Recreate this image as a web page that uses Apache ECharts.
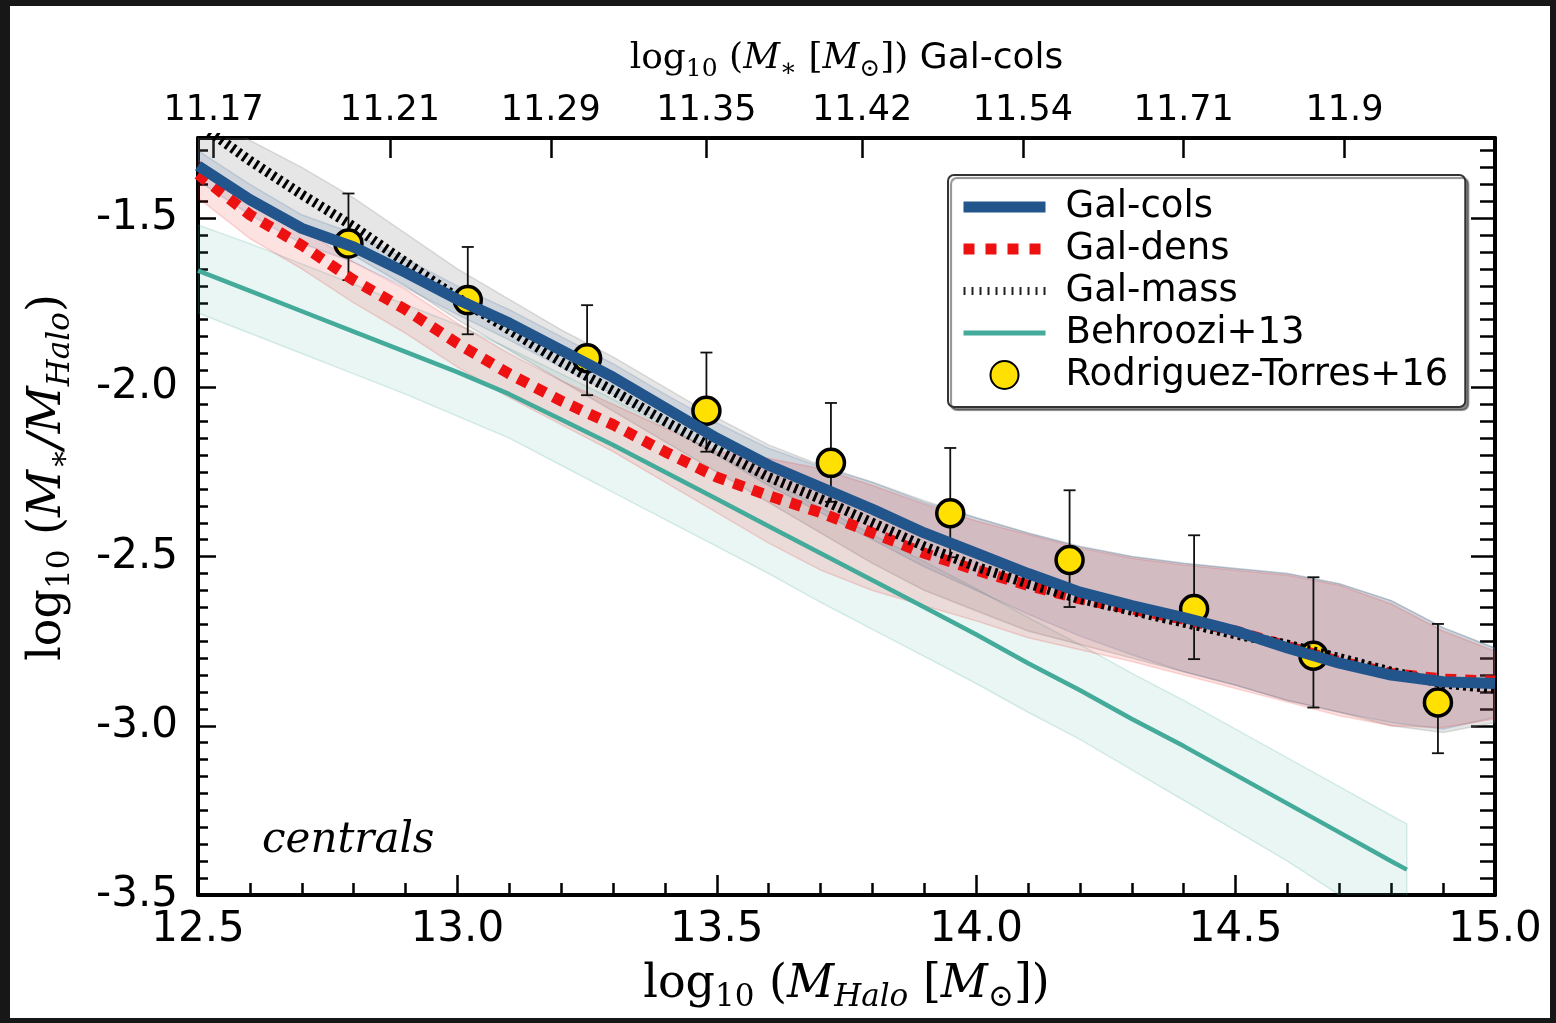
<!DOCTYPE html>
<html>
<head>
<meta charset="utf-8">
<title>Stellar-to-halo mass ratio, centrals</title>
<script src="https://cdn.jsdelivr.net/npm/echarts@6/dist/echarts.min.js"></script>
<style>
  html, body { margin: 0; padding: 0; background: #fff; }
  #chart { position: absolute; left: 0; top: 0; width: 1556px; height: 1023px; }
  #frame {
    position: absolute; left: 0; top: 0; width: 1556px; height: 1023px;
    box-sizing: border-box; border-style: solid; border-color: #171717;
    border-width: 6px 6px 5px 10px; pointer-events: none;
  }
</style>
</head>
<body>
<div id="chart"></div>
<div id="frame"></div>
<script>
// halo mass grid (log10 M_halo)
var xGrid = [12.5, 12.6, 12.7, 12.8, 12.9, 13.0, 13.1, 13.2, 13.3, 13.4, 13.5, 13.6, 13.7,
             13.8, 13.9, 14.0, 14.1, 14.2, 14.3, 14.4, 14.5, 14.6, 14.7, 14.8, 14.9, 15.0];

// Gal-cols
var colsMid = [-1.345, -1.445, -1.53, -1.585, -1.66, -1.74, -1.81, -1.89, -1.97, -2.06, -2.15, -2.23, -2.295,
               -2.36, -2.43, -2.49, -2.55, -2.605, -2.645, -2.68, -2.72, -2.77, -2.815, -2.85, -2.87, -2.875];
var colsHi = [-1.30, -1.40, -1.49, -1.545, -1.62, -1.70, -1.77, -1.85, -1.93, -2.02, -2.105, -2.18, -2.235,
              -2.28, -2.34, -2.385, -2.43, -2.47, -2.50, -2.52, -2.535, -2.55, -2.58, -2.63, -2.71, -2.77];
var colsLo = [-1.39, -1.49, -1.575, -1.63, -1.705, -1.785, -1.86, -1.94, -2.02, -2.11, -2.20, -2.29, -2.37,
              -2.45, -2.53, -2.60, -2.67, -2.735, -2.79, -2.84, -2.88, -2.925, -2.96, -2.99, -3.01, -2.975];

// Gal-dens
var densMid = [-1.37, -1.49, -1.58, -1.683, -1.77, -1.87, -1.96, -2.04, -2.11, -2.19, -2.265, -2.32, -2.37,
               -2.43, -2.49, -2.54, -2.585, -2.625, -2.655, -2.685, -2.72, -2.765, -2.81, -2.845, -2.862, -2.868];
var densHi = [-1.33, -1.44, -1.53, -1.63, -1.71, -1.81, -1.90, -1.98, -2.05, -2.12, -2.19, -2.21, -2.24,
              -2.29, -2.345, -2.395, -2.435, -2.475, -2.505, -2.525, -2.54, -2.555, -2.585, -2.64, -2.72, -2.78];
var densLo = [-1.44, -1.56, -1.65, -1.75, -1.84, -1.94, -2.03, -2.11, -2.19, -2.28, -2.37, -2.46, -2.54,
              -2.60, -2.645, -2.69, -2.74, -2.775, -2.81, -2.85, -2.89, -2.93, -2.97, -3.0, -3.005, -2.98];

// Gal-mass
var massMid = [-1.22, -1.33, -1.43, -1.525, -1.63, -1.735, -1.83, -1.925, -2.01, -2.10, -2.185, -2.265, -2.33,
               -2.40, -2.47, -2.53, -2.58, -2.625, -2.66, -2.695, -2.73, -2.76, -2.80, -2.84, -2.875, -2.89];
var massHi = [-1.19, -1.27, -1.35, -1.44, -1.545, -1.65, -1.74, -1.83, -1.91, -2.00, -2.09, -2.17, -2.23,
              -2.28, -2.335, -2.385, -2.43, -2.47, -2.50, -2.52, -2.535, -2.55, -2.58, -2.63, -2.71, -2.77];
var massLo = [-1.33, -1.43, -1.52, -1.61, -1.70, -1.80, -1.89, -1.98, -2.07, -2.16, -2.25, -2.34, -2.43,
              -2.52, -2.60, -2.66, -2.72, -2.76, -2.80, -2.84, -2.88, -2.925, -2.96, -3.0, -3.02, -2.99];

// Behroozi+13
var behX = [12.5, 12.6, 12.7, 12.8, 12.9, 13.0, 13.1, 13.2, 13.3, 13.4, 13.5, 13.6, 13.7,
            13.8, 13.9, 14.0, 14.1, 14.2, 14.3, 14.4, 14.5, 14.6, 14.7, 14.8, 14.83];
var behMid = [-1.655, -1.715, -1.775, -1.835, -1.895, -1.955, -2.02, -2.095, -2.17, -2.25, -2.33, -2.41, -2.49,
              -2.57, -2.65, -2.73, -2.815, -2.895, -2.98, -3.06, -3.145, -3.23, -3.315, -3.40, -3.425];
var behHi = [-1.52, -1.575, -1.635, -1.695, -1.755, -1.815, -1.885, -1.96, -2.035, -2.115, -2.195, -2.275, -2.355,
             -2.435, -2.515, -2.595, -2.68, -2.76, -2.845, -2.925, -3.01, -3.095, -3.18, -3.265, -3.29];
var behLo = [-1.78, -1.84, -1.90, -1.96, -2.02, -2.085, -2.15, -2.23, -2.31, -2.39, -2.47, -2.55, -2.635,
             -2.715, -2.795, -2.875, -2.96, -3.04, -3.13, -3.22, -3.31, -3.40, -3.50, -3.59, -3.62];

// Rodriguez-Torres+16
var rtX = [12.79, 13.02, 13.25, 13.48, 13.72, 13.95, 14.18, 14.42, 14.65, 14.89];
var rtY = [-1.575, -1.742, -1.914, -2.069, -2.223, -2.372, -2.510, -2.655, -2.793, -2.931];
var rtHi = [-1.427, -1.585, -1.757, -1.897, -2.046, -2.179, -2.304, -2.437, -2.561, -2.699];
var rtLo = [-1.683, -1.843, -2.023, -2.190, -2.338, -2.502, -2.649, -2.803, -2.946, -3.081];

// top axis: stellar mass of Gal-cols at these halo masses
var topTickPos = [12.53, 12.87, 13.18, 13.48, 13.78, 14.09, 14.40, 14.71];
var topTickLabels = ['11.17', '11.21', '11.29', '11.35', '11.42', '11.54', '11.71', '11.9'];

function pairs(xs, ys) {
    return xs.map(function (x, i) { return [x, ys[i]]; });
}

function bandSeries(name, xs, lo, hi, fill, edge) {
    return {
        type: 'custom',
        name: name,
        silent: true,
        clip: true,
        data: xs.map(function (x, i) { return [x, lo[i], hi[i]]; }),
        renderItem: function (params, api) {
            if (params.dataIndex !== 0) return null;
            var pts = [];
            for (var i = 0; i < xs.length; i++) pts.push(api.coord([xs[i], hi[i]]));
            for (var j = xs.length - 1; j >= 0; j--) pts.push(api.coord([xs[j], lo[j]]));
            var cs = params.coordSys;
            return {
                type: 'polygon',
                shape: { points: pts },
                style: { fill: fill, stroke: edge, lineWidth: 1.5 },
                clipPath: { type: 'rect', shape: { x: cs.x, y: cs.y, width: cs.width, height: cs.height } }
            };
        }
    };
}

var serif = 'DejaVu Serif';
var sans = 'DejaVu Sans';

function mathRich(size, subSize, lh) {
    return {
        r: { fontFamily: serif, fontSize: size, lineHeight: lh, color: '#000' },
        i: { fontFamily: serif, fontStyle: 'italic', fontSize: size, lineHeight: lh, color: '#000' },
        sub: { fontFamily: serif, fontSize: subSize, lineHeight: subSize, verticalAlign: 'bottom', color: '#000' },
        isub: { fontFamily: serif, fontStyle: 'italic', fontSize: subSize, lineHeight: subSize, verticalAlign: 'bottom', color: '#000' },
        s: { fontFamily: sans, fontSize: size, lineHeight: lh, color: '#000' }
    };
}

var chart = echarts.init(document.getElementById('chart'));

var axisLine = { show: true, onZero: false, lineStyle: { color: '#000', width: 4 } };
var noMarker = { color: 'rgba(0,0,0,0)', borderColor: 'rgba(0,0,0,0)', borderWidth: 0, opacity: 0 };

var option = {
    backgroundColor: '#fff',
    animation: false,
    grid: { left: 198, right: 61, top: 138, bottom: 128 },
    xAxis: [{
        type: 'value', position: 'bottom', min: 12.5, max: 15, interval: 0.5,
        axisLine: axisLine,
        axisTick: { inside: true, length: 20, lineStyle: { color: '#000', width: 2.5 } },
        minorTick: { show: true, splitNumber: 5, length: 12, lineStyle: { color: '#000', width: 2.5 } },
        axisLabel: { fontSize: 42, fontFamily: sans, color: '#000', margin: 14,
            formatter: function (v) { return v.toFixed(1); } },
        splitLine: { show: false },
        name: '{r|log}{sub|10}{r| (}{i|M}{isub|Halo}{r| [}{i|M}{sub|⊙}{r|])}',
        nameLocation: 'middle', nameGap: 62,
        nameTextStyle: { rich: mathRich(46, 31, 56) }
    }, {
        type: 'value', position: 'top', min: 12.5, max: 15,
        axisLine: axisLine,
        axisTick: { inside: true, length: 20, customValues: topTickPos, lineStyle: { color: '#000', width: 2.5 } },
        axisLabel: { fontSize: 35, fontFamily: sans, color: '#000', margin: 10, customValues: topTickPos,
            formatter: function (v) {
                for (var i = 0; i < topTickPos.length; i++) {
                    if (Math.abs(topTickPos[i] - v) < 1e-6) return topTickLabels[i];
                }
                return '';
            } },
        splitLine: { show: false },
        name: '{r|log}{sub|10}{r| (}{i|M}{sub|∗}{r| [}{i|M}{sub|⊙}{r|]) }{s|Gal-cols}',
        nameLocation: 'middle', nameGap: 56,
        nameTextStyle: { rich: mathRich(36, 25, 46) }
    }],
    yAxis: [{
        type: 'value', position: 'left', min: -3.5, max: -1.263, interval: 0.05,
        axisLine: axisLine,
        axisTick: { inside: true, length: 10, lineStyle: { color: '#000', width: 2.5 } },
        axisLabel: { fontSize: 42, fontFamily: sans, color: '#000', margin: 20,
            formatter: function (v) {
                return Math.abs(v * 2 - Math.round(v * 2)) < 1e-6 ? v.toFixed(1) : '';
            } },
        splitLine: { show: false },
        name: '{r|log}{sub|10}{r| (}{i|M}{sub|∗}{i|/M}{isub|Halo}{r|)}',
        nameLocation: 'middle', nameGap: 122, nameRotate: 90,
        nameTextStyle: { rich: mathRich(46, 31, 56), padding: [0, 0, 0, 78] }
    }, {
        type: 'value', position: 'left', min: -3.5, max: -1.263, interval: 0.5,
        axisLine: { show: false },
        axisTick: { inside: true, length: 18, lineStyle: { color: '#000', width: 2.5 } },
        axisLabel: { show: false },
        splitLine: { show: false }
    }, {
        type: 'value', position: 'right', min: -3.5, max: -1.263, interval: 0.05,
        axisLine: axisLine,
        axisTick: { inside: true, length: 15, lineStyle: { color: '#000', width: 2.5 } },
        axisLabel: { show: false },
        splitLine: { show: false }
    }, {
        type: 'value', position: 'right', min: -3.5, max: -1.263, interval: 0.5,
        axisLine: { show: false },
        axisTick: { inside: true, length: 24, lineStyle: { color: '#000', width: 2.5 } },
        axisLabel: { show: false },
        splitLine: { show: false }
    }],
    legend: {
        orient: 'vertical', left: 948, top: 175,
        itemWidth: 82, itemHeight: 28, itemGap: 0,
        padding: [11, 17, 11, 10],
        backgroundColor: '#fff', borderColor: '#333', borderWidth: 2, borderRadius: 6,
        shadowColor: 'rgba(0,0,0,0.45)', shadowBlur: 1, shadowOffsetX: 3, shadowOffsetY: 3,
        textStyle: { fontSize: 37, lineHeight: 42, fontFamily: sans, color: '#000', padding: [0, 0, 0, 15] },
        selectedMode: false,
        data: [
            { name: 'Gal-cols', lineStyle: { width: 11, color: '#22558c' }, itemStyle: noMarker },
            { name: 'Gal-dens', lineStyle: { width: 11, color: '#ee1111', type: [11, 11] }, itemStyle: noMarker },
            { name: 'Gal-mass', lineStyle: { width: 8, color: '#222', type: [2, 6] }, itemStyle: noMarker },
            { name: 'Behroozi+13', lineStyle: { width: 5, color: '#44aa99' }, itemStyle: noMarker },
            { name: 'Rodriguez-Torres+16', icon: 'circle' }
        ]
    },
    graphic: [{
        type: 'text', left: 262, top: 820,
        style: { text: 'centrals', font: 'italic 42px "DejaVu Serif"', fill: '#000' }
    }],
    series: [
        bandSeries('behBand', behX, behLo, behHi, 'rgba(68,170,153,0.11)', 'rgba(68,170,153,0.2)'),
        bandSeries('massBand', xGrid, massLo, massHi, 'rgba(128,128,128,0.2)', 'rgba(128,128,128,0.25)'),
        bandSeries('colsBand', xGrid, colsLo, colsHi, 'rgba(34,85,140,0.12)', 'rgba(34,85,140,0.15)'),
        bandSeries('densBand', xGrid, densLo, densHi, 'rgba(238,17,17,0.12)', 'rgba(238,17,17,0.15)'),
        {
            name: 'Behroozi+13', type: 'line', data: pairs(behX, behMid), symbol: 'none',
            lineStyle: { color: '#44aa99', width: 4.5 }, itemStyle: { color: '#44aa99' }
        },
        {
            name: 'Gal-dens', type: 'line', data: pairs(xGrid, densMid), symbol: 'none',
            lineStyle: { color: '#ee1111', width: 11, type: [11, 9], cap: 'butt' }, itemStyle: { color: '#ee1111' }
        },
        {
            name: 'Gal-mass', type: 'line', data: pairs(xGrid, massMid), symbol: 'none',
            lineStyle: { color: '#000', width: 10, type: [3, 4], cap: 'butt' }, itemStyle: { color: '#000' }
        },
        {
            name: 'Gal-cols', type: 'line', data: pairs(xGrid, colsMid), symbol: 'none',
            lineStyle: { color: '#22558c', width: 11 }, itemStyle: { color: '#22558c' }
        },
        {
            name: 'errors', type: 'custom', silent: true,
            data: rtX.map(function (x, i) { return [x, rtLo[i], rtHi[i]]; }),
            renderItem: function (params, api) {
                var lo = api.coord([api.value(0), api.value(1)]);
                var hi = api.coord([api.value(0), api.value(2)]);
                var w = 6;
                var st = { stroke: '#111', lineWidth: 1.8 };
                return {
                    type: 'group',
                    children: [
                        { type: 'line', shape: { x1: lo[0], y1: lo[1], x2: hi[0], y2: hi[1] }, style: st },
                        { type: 'line', shape: { x1: lo[0] - w, y1: lo[1], x2: lo[0] + w, y2: lo[1] }, style: st },
                        { type: 'line', shape: { x1: hi[0] - w, y1: hi[1], x2: hi[0] + w, y2: hi[1] }, style: st }
                    ]
                };
            }
        },
        {
            name: 'Rodriguez-Torres+16', type: 'scatter', data: pairs(rtX, rtY),
            symbol: 'circle', symbolSize: 27,
            itemStyle: { color: '#ffe000', borderColor: '#000', borderWidth: 3.5, opacity: 1 }
        }
    ]
};

chart.setOption(option);
</script>
</body>
</html>
